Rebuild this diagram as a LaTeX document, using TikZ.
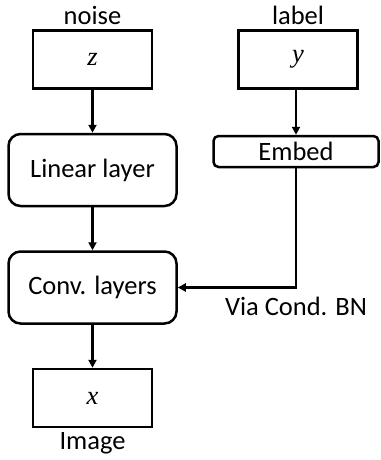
\documentclass[tikz,border=0pt]{standalone}
\usepackage{fontspec}
\setmainfont{Carlito}
\newfontfamily\varfont{Liberation Serif}
\usepackage{tikz}
\usetikzlibrary{arrows.meta,positioning}
\tikzset{
  varbox/.style={draw=black, line width=2.5pt, minimum width=119pt, minimum height=58pt, inner sep=0pt},
  layerbox/.style={draw=black, rounded corners=12pt, line width=2.5pt, minimum width=168pt, minimum height=72pt, inner sep=0pt},
  embedbox/.style={draw=black, rounded corners=5pt, line width=2.5pt, minimum width=165pt, minimum height=31pt, inner sep=0pt},
  arrow/.style={-{Triangle[length=8pt, width=8pt]}, line width=2.5pt, draw=black}
}

\begin{document}
\begin{tikzpicture}[
    x=1pt, y=1pt,
    node distance=43pt,
    every node/.style={
        font=\fontsize{26.5}{30}\selectfont,
        align=center
    }
]
\useasboundingbox (0,0) rectangle (380,-460);

\node[varbox] (z) at (92.5,-59.5)
    {\varfont\itshape z};
\node[above=1pt of z] (noise)
    {noise};

\node[layerbox, below=of z] (linear)
    {Linear layer};

\node[layerbox, below=of linear] (conv)
    {Conv. layers};

\node[varbox, below=of conv] (x)
    {\varfont\itshape x};
\node[below=1pt of x] (image)
    {Image};

\node[varbox] (y) at (298,-59.5)
    {\varfont\itshape y};
\node[above=1pt of y] (label)
    {label};

\node[embedbox, below=45pt of y, xshift=-2pt] (embed)
    {Embed};

\coordinate (corner) at (embed.south |- conv.east);
\node[below=6pt of corner] (via)
    {Via Cond. BN};

\draw[arrow] (z) -- (linear);
\draw[arrow] (linear) -- (conv);
\draw[arrow] (conv) -- (x);
\draw[arrow] (y.south -| embed.north) -- (embed);
\draw[arrow] (embed.south) |- (conv.east);
\end{tikzpicture}
\end{document}
